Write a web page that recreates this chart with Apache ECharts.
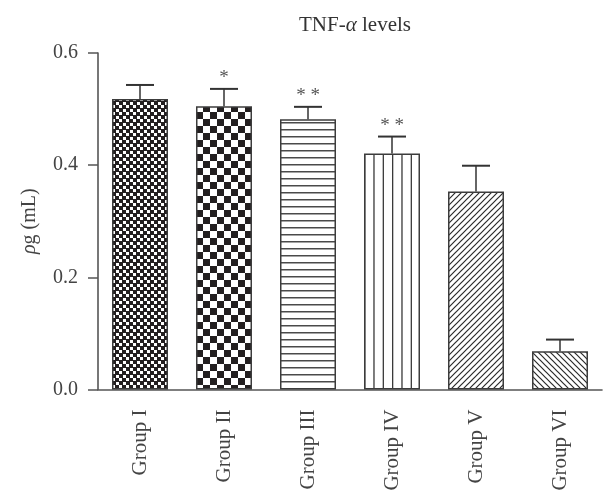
<!DOCTYPE html>
<html>
<head>
<meta charset="utf-8">
<script src="https://cdn.jsdelivr.net/npm/echarts@6/dist/echarts.min.js"></script>
<style>
html,body{margin:0;padding:0;background:#fff;}
#c{width:603px;height:490px;}
</style>
</head>
<body>
<div id="c"></div>
<script>
var categories = ['Group I', 'Group II', 'Group III', 'Group IV', 'Group V', 'Group VI'];
var means = [0.518, 0.505, 0.482, 0.421, 0.353, 0.068];
var errors = [0.025, 0.031, 0.022, 0.030, 0.046, 0.021];
var marks = ['', '*', '* *', '* *', '', ''];
var yTicks = [0, 0.2, 0.4, 0.6];

var FONT = '"Liberation Serif", "Times New Roman", serif';

function makePattern(w, h, draw) {
  var cv = document.createElement('canvas');
  cv.width = w; cv.height = h;
  var ctx = cv.getContext('2d');
  ctx.fillStyle = '#fff';
  ctx.fillRect(0, 0, w, h);
  draw(ctx, w, h);
  return { image: cv, repeat: 'repeat' };
}
var DARK = '#231f20';
var patterns = [
  makePattern(7, 7, function (c) {
    c.fillStyle = DARK; c.fillRect(0, 0, 7, 7);
    c.fillStyle = '#fff'; c.fillRect(0, 0, 3, 3); c.fillRect(4, 4, 3, 3);
  }),
  makePattern(14, 14, function (c) {
    c.fillStyle = DARK; c.fillRect(0, 0, 7, 7); c.fillRect(7, 7, 7, 7);
  }),
  makePattern(8, 7, function (c) {
    c.fillStyle = '#4a4a4a'; c.fillRect(0, 3, 8, 1.5);
  }),
  makePattern(28, 8, function (c) {
    c.fillStyle = '#3a3a3a';
    [0, 9.33, 18.67].forEach(function (x) { c.fillRect(x, 0, 1.3, 8); });
  }),
  makePattern(6, 6, function (c) {
    c.strokeStyle = '#2a2a2a'; c.lineWidth = 1.2;
    c.beginPath();
    c.moveTo(-1, 7); c.lineTo(7, -1);
    c.moveTo(-7, 7); c.lineTo(1, -1);
    c.moveTo(5, 7); c.lineTo(13, -1);
    c.stroke();
  }),
  makePattern(6, 6, function (c) {
    c.strokeStyle = '#2a2a2a'; c.lineWidth = 1.2;
    c.beginPath();
    c.moveTo(-1, -1); c.lineTo(7, 7);
    c.moveTo(-7, -1); c.lineTo(1, 7);
    c.moveTo(5, -1); c.lineTo(13, 7);
    c.stroke();
  })
];

var barData = means.map(function (v, i) {
  return {
    value: v,
    itemStyle: { color: patterns[i], borderColor: '#3c3c3c', borderWidth: 1.5 }
  };
});
var errData = means.map(function (v, i) { return [i, v, v + errors[i], marks[i]]; });

var chart = echarts.init(document.getElementById('c'));
chart.setOption({
  animation: false,
  backgroundColor: '#fff',
  title: {
    text: 'TNF-{i|α} levels',
    left: 350, top: 10, textAlign: 'center',
    textStyle: {
      fontFamily: FONT, fontSize: 21, fontWeight: 'normal', color: '#333',
      rich: { i: { fontFamily: FONT, fontSize: 21, fontStyle: 'italic', color: '#333' } }
    }
  },
  grid: { left: 98, right: 1, top: 53, bottom: 100.5, containLabel: false, outerBoundsMode: 'none' },
  xAxis: {
    type: 'category',
    data: categories,
    axisLine: { lineStyle: { color: '#555', width: 1.6 } },
    axisTick: { alignWithLabel: true, length: 10, lineStyle: { color: '#555', width: 1.5 } },
    axisLabel: { rotate: 90, margin: 20, fontFamily: FONT, fontSize: 21, color: '#444' }
  },
  yAxis: {
    type: 'value',
    min: 0, max: 0.6, interval: 0.2,
    name: '{i|ρ}g (mL)',
    nameLocation: 'middle',
    nameGap: 58,
    nameTextStyle: {
      fontFamily: FONT, fontSize: 20, color: '#444',
      rich: { i: { fontFamily: FONT, fontSize: 20, fontStyle: 'italic', color: '#444' } }
    },
    splitLine: { show: false },
    axisLine: { show: true, lineStyle: { color: '#555', width: 1.6 } },
    axisTick: { show: true, length: 10, lineStyle: { color: '#555', width: 1.5 } },
    axisLabel: {
      margin: 20, fontFamily: FONT, fontSize: 20, color: '#444',
      formatter: function (v) { return v.toFixed(1); }
    }
  },
  series: [
    {
      type: 'bar',
      data: barData,
      barWidth: 56
    },
    {
      type: 'custom',
      data: errData,
      z: 5,
      renderItem: function (params, api) {
        var x = api.value(0);
        var p0 = api.coord([x, api.value(1)]);
        var p1 = api.coord([x, api.value(2)]);
        var half = 14;
        var children = [
          { type: 'line', shape: { x1: p0[0], y1: p0[1], x2: p1[0], y2: p1[1] },
            style: { stroke: '#333', lineWidth: 1.5 } },
          { type: 'line', shape: { x1: p1[0] - half, y1: p1[1], x2: p1[0] + half, y2: p1[1] },
            style: { stroke: '#333', lineWidth: 2 } }
        ];
        var m = errData[params.dataIndex][3];
        if (m) {
          children.push({
            type: 'text',
            style: {
              text: m, x: p1[0], y: p1[1] - 1,
              align: 'center', verticalAlign: 'bottom',
              font: '19px ' + FONT, fill: '#555'
            }
          });
        }
        return { type: 'group', children: children };
      }
    }
  ]
});
</script>
</body>
</html>
